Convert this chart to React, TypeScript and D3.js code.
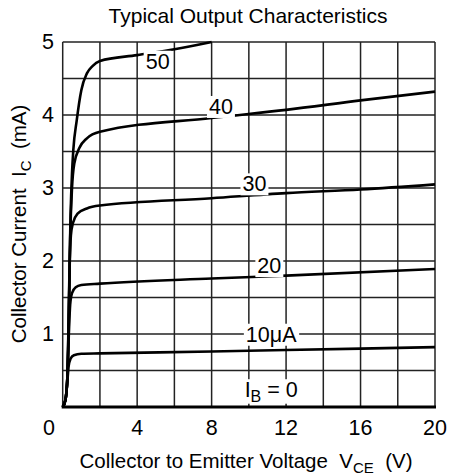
import React, { useEffect, useRef } from "react";
import * as d3 from "d3";

const xTicks = [0, 4, 8, 12, 16, 20];
const yTicks = [1, 2, 3, 4, 5];
const seriesNames = ["10", "20", "30", "40", "50"];

const curve10: [number, number][] = [[0, 0], [0.15, 0.1], [0.25, 0.35], [0.32, 0.56], [0.42, 0.66], [0.6, 0.71], [1, 0.73], [2, 0.735], [8, 0.76], [12, 0.78], [20, 0.82]];
const curve20: [number, number][] = [[0, 0], [0.15, 0.1], [0.25, 0.4], [0.33, 1.0], [0.4, 1.4], [0.5, 1.56], [0.7, 1.64], [1, 1.67], [2, 1.69], [8, 1.76], [12, 1.8], [20, 1.89]];
const curve30: [number, number][] = [[0, 0], [0.15, 0.1], [0.25, 0.4], [0.33, 1.2], [0.38, 2.0], [0.44, 2.35], [0.55, 2.52], [0.8, 2.65], [1.3, 2.72], [2, 2.76], [8, 2.86], [12, 2.93], [16, 2.98], [20, 3.05]];
const curve40: [number, number][] = [[0, 0], [0.15, 0.1], [0.25, 0.4], [0.33, 1.3], [0.4, 2.3], [0.5, 3.0], [0.62, 3.33], [0.9, 3.55], [1.3, 3.68], [2, 3.77], [8, 3.96], [12, 4.07], [16, 4.2], [20, 4.32]];
const curve50: [number, number][] = [[0, 0], [0.15, 0.1], [0.25, 0.4], [0.33, 1.4], [0.42, 2.6], [0.5, 3.2], [0.57, 3.52], [0.75, 3.92], [1.0, 4.34], [1.3, 4.57], [1.6, 4.67], [2, 4.74], [4, 4.82], [6, 4.9], [8, 5.0]];
const curves = [curve10, curve20, curve30, curve40, curve50];

const labelText = ["50", "40", "30", "20", "10μA", "IB = 0"];
const labelV = [5.1, 8.5, 10.3, 11.1, 11.2, 11.2];
const labelI = [4.73, 4.11, 3.05, 1.93, 0.99, 0.23];

export default function App() {
  const ref = useRef<SVGSVGElement>(null);
  useEffect(() => {
    const svg = d3.select(ref.current);
    svg.selectAll("*").remove();
    const L = 62.7, R = 435, T = 42, B = 407;
    const x = d3.scaleLinear().domain([0, 20]).range([L, R]);
    const y = d3.scaleLinear().domain([0, 5]).range([B, T]);
    const font = "'Liberation Sans', Arial, sans-serif";
    const fs = 21.5;

    // grid
    const g = svg.append("g");
    d3.range(0, 20.01, 2).forEach((v) => {
      g.append("line").attr("x1", x(v)).attr("x2", x(v)).attr("y1", T).attr("y2", B)
        .attr("stroke", "#222").attr("stroke-width", 1.5);
    });
    d3.range(0, 5.01, 0.5).forEach((v) => {
      g.append("line").attr("x1", L).attr("x2", R).attr("y1", y(v)).attr("y2", y(v))
        .attr("stroke", "#222").attr("stroke-width", 1.5);
    });
    g.append("line").attr("x1", L - 1).attr("x2", R + 1).attr("y1", B).attr("y2", B)
      .attr("stroke", "#000").attr("stroke-width", 3);

    // curves
    const line = d3.line<[number, number]>().x((d) => x(d[0])).y((d) => y(d[1])).curve(d3.curveMonotoneX);
    curves.forEach((c, i) => {
      svg.append("path").attr("d", line(c) as string).attr("fill", "none")
        .attr("stroke", "#000").attr("stroke-width", 2.6).attr("data-name", seriesNames[i]);
    });

    // labels with white backgrounds
    labelText.forEach((t, i) => {
      const gg = svg.append("g");
      const rect = gg.append("rect").attr("fill", "#fff");
      const txt = gg.append("text").attr("x", x(labelV[i])).attr("y", y(labelI[i]))
        .attr("text-anchor", "middle").attr("dominant-baseline", "central")
        .attr("font-family", font).attr("font-size", fs).attr("fill", "#000");
      if (t.startsWith("IB")) {
        txt.append("tspan").text("I");
        txt.append("tspan").text("B").attr("font-size", 16).attr("dy", 6);
        txt.append("tspan").text(" = 0").attr("dy", -6);
      } else {
        txt.text(t);
      }
      const bb = (txt.node() as SVGTextElement).getBBox();
      rect.attr("x", bb.x - 2).attr("y", bb.y + 1).attr("width", bb.width + 4).attr("height", bb.height - 2);
    });

    // tick labels
    yTicks.forEach((v) => {
      svg.append("text").attr("x", 48).attr("y", y(v)).attr("text-anchor", "middle")
        .attr("dominant-baseline", "central").attr("font-family", font).attr("font-size", fs).text(v);
    });
    xTicks.forEach((v) => {
      svg.append("text").attr("x", v === 0 ? 49 : x(v)).attr("y", 435).attr("text-anchor", "middle")
        .attr("font-family", font).attr("font-size", fs).text(v);
    });

    // title
    svg.append("text").attr("x", 248).attr("y", 23).attr("text-anchor", "middle")
      .attr("font-family", font).attr("font-size", 21).text("Typical Output Characteristics");

    // x axis title
    const xt = svg.append("text").attr("x", 246).attr("y", 468).attr("text-anchor", "middle")
      .attr("font-family", font).attr("font-size", 20.5).style("white-space", "pre");
    xt.append("tspan").text("Collector to Emitter Voltage  V");
    xt.append("tspan").text("CE").attr("font-size", 15).attr("dy", 5);
    xt.append("tspan").text("  (V)").attr("dy", -5);

    // y axis title
    const yt = svg.append("text").attr("transform", "translate(26,224) rotate(-90)")
      .attr("text-anchor", "middle").attr("font-family", font).attr("font-size", 20.5).style("white-space", "pre");
    yt.append("tspan").text("Collector Current  I");
    yt.append("tspan").text("C").attr("font-size", 15).attr("dy", 5);
    yt.append("tspan").text("  (mA)").attr("dy", -5);
  }, []);
  return (
    <svg ref={ref} width={449} height={476} style={{ position: "absolute", left: 0, top: 0, background: "#fff" }} />
  );
}
